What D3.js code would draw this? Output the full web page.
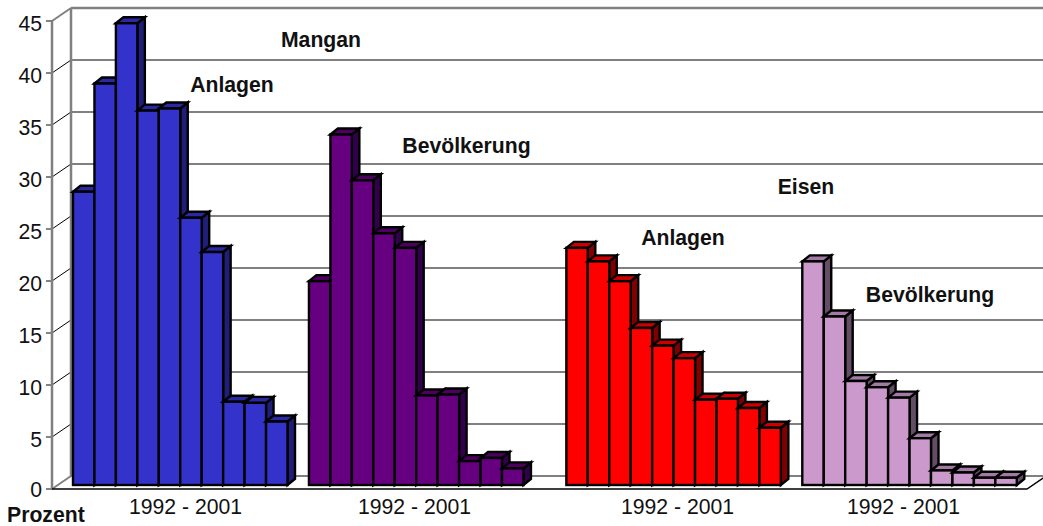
<!DOCTYPE html>
<html><head><meta charset="utf-8">
<script src="https://cdn.jsdelivr.net/npm/d3@7"></script>
<style>html,body{margin:0;padding:0;background:#fff}svg{display:block}text{font-family:"Liberation Sans",Arial,sans-serif;fill:#111}</style>
</head><body><svg id="c" width="1043" height="526"></svg>
<script>
const years = d3.range(1992, 2002);
const groupNames = ["Mangan Anlagen", "Mangan Bevölkerung", "Eisen Anlagen", "Eisen Bevölkerung"];
const manganAnlagen = [28.2, 38.6, 44.4, 36.0, 36.2, 25.7, 22.4, 8.0, 7.9, 6.1];
const manganBevoelkerung = [19.6, 33.7, 29.3, 24.2, 22.8, 8.6, 8.7, 2.3, 2.6, 1.6];
const eisenAnlagen = [22.8, 21.5, 19.6, 15.1, 13.4, 12.2, 8.2, 8.3, 7.4, 5.5];
const eisenBevoelkerung = [21.5, 16.2, 10.0, 9.4, 8.4, 4.5, 1.4, 1.2, 0.7, 0.7];
const seriesValues = [manganAnlagen, manganBevoelkerung, eisenAnlagen, eisenBevoelkerung];
const groupLabel = "1992 - 2001";
const yTicks = [0, 5, 10, 15, 20, 25, 30, 35, 40, 45];
const annotations = ["Mangan", "Anlagen", "Bevölkerung", "Eisen", "Anlagen", "Bevölkerung"];
const axisTitle = "Prozent";

const fronts = ["#3333cc", "#660080", "#ff0000", "#cc99cc"];
const sides = ["#1f1f7a", "#33004d", "#800000", "#664d66"];
const tops = ["#2929a3", "#4d0060", "#cc0000", "#a37aa3"];
const spacerCounts = [1, 2, 1, 0];
const annotationPos = [[321, 47], [232, 92], [466.5, 153], [806, 194], [683, 245], [930, 302]];
const groupLabelCenters = [185.5, 414.5, 677.5, 903.5];

const svg = d3.select("#c");
const FS = 21.2;
const wall = {dx: 19, dy: -13};
const bar = {dx: 7.5, dy: -6};
const xLeft = 52, xRight = 1027, yBottom = 489;

const y = d3.scaleLinear().domain([0, 45]).range([yBottom, 21]);

// band domain with empty spacer slots between groups
const slots = [];
groupNames.forEach((g, gi) => {
  years.forEach(yr => slots.push(g + yr));
  d3.range(spacerCounts[gi]).forEach(s => slots.push("gap" + gi + s));
});
const x = d3.scaleBand().domain(slots).range([73, 73 + 21.45 * slots.length]);

const grid = "#808080";
const g = svg.append("g");
// back wall grid
yTicks.forEach(t => {
  g.append("line").attr("x1", xLeft + wall.dx).attr("x2", 1043)
    .attr("y1", y(t) + wall.dy).attr("y2", y(t) + wall.dy)
    .attr("stroke", grid).attr("stroke-width", t === 45 ? 2.5 : 2);
});
// side wall connectors, ticks and tick labels
yTicks.forEach(t => {
  const edge = t === 0 || t === 45;
  g.append("line").attr("x1", xLeft).attr("x2", xLeft + wall.dx)
    .attr("y1", y(t)).attr("y2", y(t) + wall.dy)
    .attr("stroke", edge ? grid : "#000").attr("stroke-width", edge ? 2 : 1);
  g.append("line").attr("x1", xLeft - 6).attr("x2", xLeft).attr("y1", y(t)).attr("y2", y(t))
    .attr("stroke", "#333").attr("stroke-width", 1.2);
  g.append("text").attr("x", xLeft - 10).attr("y", y(t) + (t === 0 ? 0.5 : 3)).attr("dy", "0.35em")
    .attr("text-anchor", "end").attr("font-size", FS).text(t);
});
g.append("line").attr("x1", xLeft).attr("x2", xLeft).attr("y1", y(45)).attr("y2", y(0)).attr("stroke", grid).attr("stroke-width", 2.5);
g.append("line").attr("x1", xLeft + wall.dx).attr("x2", xLeft + wall.dx).attr("y1", y(45) + wall.dy).attr("y2", y(0) + wall.dy).attr("stroke", grid).attr("stroke-width", 2.5);
// floor
g.append("path").attr("d", `M${xLeft},${yBottom}H${xRight}L${xRight + wall.dx},${yBottom + wall.dy}`)
  .attr("fill", "none").attr("stroke", "#000").attr("stroke-width", 1.4);

// bars
const base = yBottom - 4;
const h = v => y(0) - y(v);
groupNames.forEach((name, gi) => {
  seriesValues[gi].forEach((v, i) => {
    const x0 = x(name + years[i]), w = x.bandwidth(), top = base - h(v);
    const b = g.append("g").attr("stroke", "#000").attr("stroke-width", 2.4).attr("stroke-linejoin", "miter");
    b.append("path").attr("fill", sides[gi])
      .attr("d", `M${x0 + w},${top}l${bar.dx},${bar.dy}V${base + bar.dy}l${-bar.dx},${-bar.dy}Z`);
    b.append("path").attr("fill", tops[gi])
      .attr("d", `M${x0},${top}l${bar.dx},${bar.dy}h${w}l${-bar.dx},${-bar.dy}Z`);
    b.append("rect").attr("x", x0).attr("y", top).attr("width", w).attr("height", base - top).attr("fill", fronts[gi]);
  });
});

// group labels
groupLabelCenters.forEach(c => {
  g.append("text").attr("x", c).attr("y", 514).attr("text-anchor", "middle").attr("font-size", FS).text(groupLabel);
});
annotations.forEach((t, i) => {
  g.append("text").attr("x", annotationPos[i][0]).attr("y", annotationPos[i][1]).attr("text-anchor", "middle")
    .attr("font-size", FS).attr("font-weight", "bold").text(t);
});
g.append("text").attr("x", 7).attr("y", 521.5).attr("font-size", FS).attr("font-weight", "bold").text(axisTitle);
</script></body></html>
